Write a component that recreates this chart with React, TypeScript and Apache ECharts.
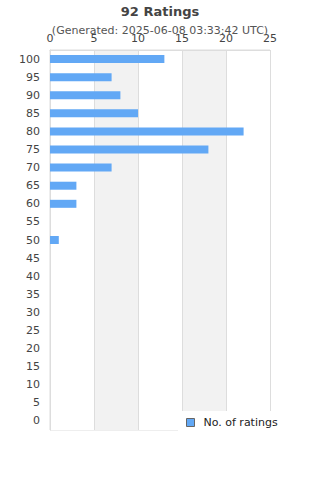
import React, { useEffect, useRef } from "react";
import * as echarts from "echarts";

const categories = ["0", "5", "10", "15", "20", "25", "30", "35", "40", "45", "50", "55", "60", "65", "70", "75", "80", "85", "90", "95", "100"];
const counts = [0, 0, 0, 0, 0, 0, 0, 0, 0, 0, 1, 0, 3, 3, 7, 18, 22, 10, 8, 7, 13];
const seriesName = "No. of ratings";
const titleText = "92 Ratings";
const subText = "(Generated: 2025-06-08 03:33:42 UTC)";

export default function App() {
  const ref = useRef<HTMLDivElement>(null);
  useEffect(() => {
    if (!ref.current) return;
    const chart = echarts.init(ref.current, null, { renderer: "svg" });
    const font = "DejaVu Sans";
    chart.setOption({
      animation: false,
      backgroundColor: "#fff",
      title: {
        text: titleText,
        subtext: subText,
        left: "center",
        top: 0,
        itemGap: 7,
        textStyle: { fontFamily: font, fontSize: 13, fontWeight: "bold", color: "#444" },
        subtextStyle: { fontFamily: font, fontSize: 11, color: "#555" },
      },
      grid: {
        left: 50,
        right: 50,
        top: 50,
        bottom: 50,
        show: true,
        borderColor: "#dddddd",
        borderWidth: 1,
        backgroundColor: "transparent",
      },
      xAxis: {
        type: "value",
        position: "top",
        min: 0,
        max: 25,
        interval: 5,
        axisLine: { show: true, lineStyle: { color: "#dddddd" } },
        axisTick: { show: false },
        axisLabel: { fontFamily: font, fontSize: 11, color: "#444", margin: 6 },
        splitLine: { show: true, lineStyle: { color: "#dddddd" } },
        splitArea: { show: true, areaStyle: { color: ["#ffffff", "#f2f2f2"] } },
      },
      yAxis: {
        type: "category",
        data: categories,
        axisLine: { show: true, lineStyle: { color: "#dddddd" } },
        axisTick: { show: false },
        axisLabel: { fontFamily: font, fontSize: 11, color: "#444", margin: 10, interval: 0 },
        splitLine: { show: false },
      },
      legend: {
        left: 178,
        top: 411,
        padding: [6, 10, 10, 8],
        backgroundColor: "#ffffff",
        itemWidth: 8,
        itemHeight: 8,
        itemGap: 10,
        icon: "rect",
        itemStyle: { borderColor: "#666", borderWidth: 1 },
        textStyle: { fontFamily: font, fontSize: 11, color: "#222", padding: [0, 0, 0, 4] },
        data: [seriesName],
      },
      series: [
        {
          name: seriesName,
          type: "bar",
          data: counts,
          barWidth: 8,
          itemStyle: { color: "#62a8f5" },
        },
      ],
    });
    return () => chart.dispose();
  }, []);
  return <div ref={ref} style={{ width: 320, height: 480, position: "absolute", left: 0, top: 0 }} />;
}
